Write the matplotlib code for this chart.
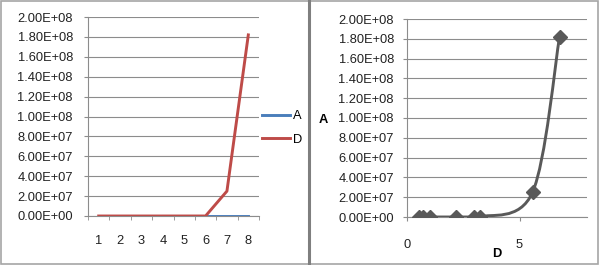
import matplotlib
matplotlib.use("Agg")
import matplotlib.pyplot as plt
from matplotlib.path import Path
from matplotlib.patches import PathPatch, Rectangle
from matplotlib.lines import Line2D
import numpy as np

# Data
categories = [1, 2, 3, 4, 5, 6, 7, 8]
legend_labels = ["A", "D"]
blue_vals = [0.55, 0.71, 1.04, 2.16, 2.96, 3.26, 5.58, 6.78]        # small series (D column)
red_vals = [4, 7, 20, 400, 3000, 6000, 2.5e7, 1.82e8]              # large series (A column)
y_ticks = [0, 2e7, 4e7, 6e7, 8e7, 1e8, 1.2e8, 1.4e8, 1.6e8, 1.8e8, 2e8]
y_ticklabels = ["0.00E+00", "2.00E+07", "4.00E+07", "6.00E+07", "8.00E+07", "1.00E+08",
                "1.20E+08", "1.40E+08", "1.60E+08", "1.80E+08", "2.00E+08"]

blue = "#4A7EBB"
red = "#BE4B48"
grid_c = "#8C8C8C"
dark = "#595959"
W, H = 600, 265
FS = 9.3

plt.rcParams["font.family"] = ["Liberation Sans", "DejaVu Sans"]
fig = plt.figure(figsize=(6, 2.65), dpi=100)
fig.patch.set_facecolor("white")


def px(x0, y0, x1, y1):
    # pixel box (top-left origin) -> figure fraction rect
    return [x0 / W, (H - y1) / H, (x1 - x0) / W, (y1 - y0) / H]


def style_axes(ax, pad):
    ax.set_ylim(0, 2e8)
    ax.set_yticks(y_ticks)
    ax.set_yticklabels(y_ticklabels, fontsize=FS, color="#222")
    ax.yaxis.grid(True, color=grid_c, linewidth=0.8)
    ax.set_axisbelow(True)
    for s in ["top", "right"]:
        ax.spines[s].set_visible(False)
    ax.spines["left"].set_color(grid_c)
    ax.spines["bottom"].set_color(grid_c)
    ax.tick_params(axis="y", length=3, color=grid_c, pad=pad)
    ax.tick_params(axis="x", length=3, color=grid_c, labelsize=FS, labelcolor="#222")


# ---- left: line chart over categories ----
ax1 = fig.add_axes(px(88, 17, 259, 216))
ax1.plot(categories, blue_vals, color=blue, lw=2.1, label=legend_labels[0], zorder=3)
ax1.plot(categories, red_vals, color=red, lw=2.1, label=legend_labels[1], zorder=4)
ax1.set_xlim(0.5, 8.5)
ax1.set_xticks(categories)
ax1.set_xticks(np.arange(0.5, 9, 1), minor=True)
style_axes(ax1, pad=7.8)
ax1.tick_params(axis="x", which="major", length=0, pad=14)
ax1.tick_params(axis="x", which="minor", length=3, color=grid_c)
ax1.legend(loc="center left", bbox_to_anchor=(262 / W, 1 - 128 / H),
           bbox_transform=fig.transFigure, frameon=False, fontsize=FS,
           handlelength=2.2, handletextpad=0.2, labelspacing=0.9,
           borderpad=0, borderaxespad=0)

# ---- right: scatter with smoothed line ----
ax2 = fig.add_axes(px(407, 19, 587, 217))
pts = np.column_stack([blue_vals, red_vals])
ext = np.vstack([pts[0], pts, pts[-1]])
verts, codes = [pts[0]], [Path.MOVETO]
for i in range(1, len(ext) - 2):
    p0, p1, p2, p3 = ext[i - 1], ext[i], ext[i + 1], ext[i + 2]
    verts += [p1 + (p2 - p0) / 6, p2 - (p3 - p1) / 6, p2]
    codes += [Path.CURVE4] * 3
ax2.add_patch(PathPatch(Path(verts, codes), fill=False, edgecolor=dark, lw=2.1, zorder=3))
ax2.plot(blue_vals, red_vals, ls="none", marker="D", ms=6.8, color=dark, zorder=4)
ax2.set_xlim(0, 8)
ax2.set_xticks([0, 5])
style_axes(ax2, pad=6.4)
ax2.tick_params(axis="x", pad=13)
fig.text(323 / W, 1 - 120 / H, "A", fontsize=FS, fontweight="bold", ha="center", va="center")
fig.text(497 / W, 1 - 254 / H, "D", fontsize=FS, fontweight="bold", ha="center", va="center")

# ---- frame and divider ----
fig.add_artist(Rectangle((0.5 / W, 1.5 / H), 597.5 / W, 262.5 / H, transform=fig.transFigure,
                         fill=False, edgecolor="#A6A6A6", lw=1.2))
fig.add_artist(Line2D([309 / W, 309 / W], [0, 1], transform=fig.transFigure,
                      color="#7F7F7F", lw=2.2))

fig.savefig("out.png", dpi=100, facecolor="white")
